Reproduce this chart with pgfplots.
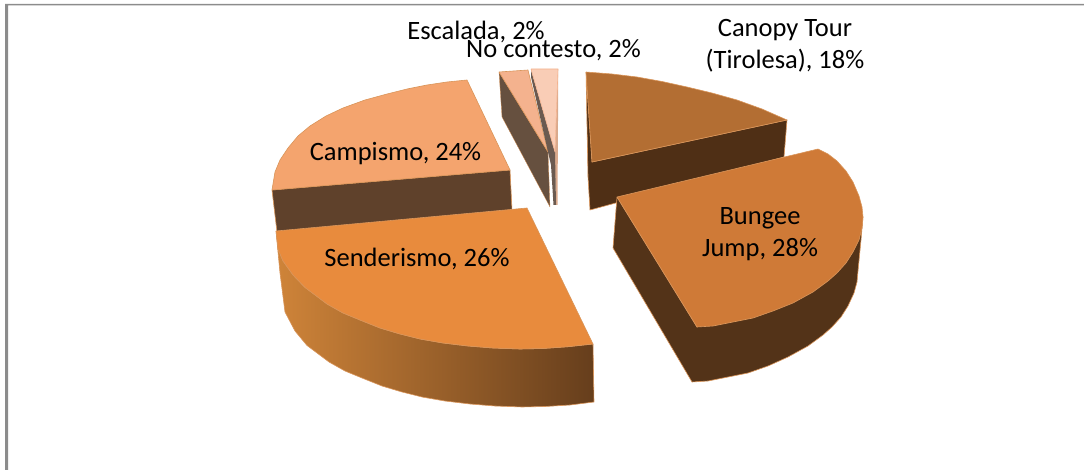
\documentclass[border=0pt]{standalone}
\usepackage{pgfplots}
\pgfplotsset{compat=1.18}
\usepackage{fontspec}
\setmainfont{Carlito}
\definecolor{edge}{HTML}{D9955A}
\definecolor{frame}{HTML}{8C8C8C}
\definecolor{cwall}{HTML}{5F412B}
\definecolor{ctop}{HTML}{F4A46E}
\definecolor{ewall}{HTML}{66503F}
\definecolor{etop}{HTML}{F4B28E}
\definecolor{nwall}{HTML}{6B5A50}
\definecolor{ntop}{HTML}{F9CDB6}
\definecolor{nside}{HTML}{D9A98C}
\definecolor{twall}{HTML}{4F2F15}
\definecolor{ttop}{HTML}{B36E33}
\definecolor{bwall}{HTML}{533318}
\definecolor{btop}{HTML}{CF7A37}
\definecolor{sleft}{HTML}{CF8439}
\definecolor{sright}{HTML}{663E1C}
\definecolor{stop}{HTML}{E88B3D}
\tikzset{lab/.style={font=\fontsize{26.5}{32}\selectfont,align=center,text=black,inner sep=0pt}}
\begin{document}
\begin{tikzpicture}
\path[use as bounding box] (0,0) rectangle (1084pt,470pt);
\begin{axis}[at={(0,0)},anchor=south west,width=1084pt,height=470pt,scale only axis,axis lines=none,xmin=0,xmax=1084,ymin=0,ymax=470,y dir=reverse,clip=true,
 every axis plot/.append style={line width=0.6pt,line join=round}]
% frame
\addplot[draw=none,fill=frame] coordinates {(5,4)(1084,4)(1084,5.5)(8,5.5)(8,470)(5,470)(5,4)};
% Campismo
\addplot[draw=edge,fill=cwall] coordinates {(272,190)(510,170)(512,210)(277,232)(272,190)};
\addplot[draw=edge,fill=ctop] coordinates {(510,170)(467,80)(447,82)(427,85)(407,89)(387,94)(365,100)(343,108)(326,116)(310,126)(298,136)(288,148)(280,160)(275,172)(272,190)(510,170)};
% Escalada
\addplot[draw=edge,line width=0.3pt,fill=ewall] coordinates {(499,72)(548,152)(550,207)(502,117)(499,72)};
\addplot[draw=edge,fill=etop] coordinates {(499,72)(528,70)(548,152)(499,72)};
% No contesto
\addplot[draw=none,fill=nside] coordinates {(558,69)(558,120)(557.5,205)(555.5,205)(555,152)(558,69)};
\addplot[draw=none,fill=nwall] coordinates {(531,70)(555,152)(556,205)(553.5,205)(551,165)(548,152)(531,77)(531,70)};
\addplot[draw=etop,fill=ntop] coordinates {(531,69)(558,69)(555,152)(531,69)};
% Canopy
\addplot[draw=edge,fill=twall] coordinates {(586,72)(592,162)(787,120)(784,157)(590,210)(588,177)(586,72)};
\addplot[draw=edge,fill=ttop] coordinates {(586,72)(612,74)(637,77)(662,81.5)(687,87)(712,93)(737,100)(762,109)(787,120)(592,162)(586,72)};
% Bungee
\addplot[draw=edge,fill=bwall] coordinates {(617,197)(613,248)(692,382)(708,381)(728,377)(748,373)(768,366)(788,357)(808,346)(823,335)(832,327)(841,317)(848,306)(854,293)(857,282)(858,271)(861,240)(863,217)(697,327)(617,197)};
\addplot[draw=edge,fill=btop] coordinates {(617,197)(818,149)(828,154)(837,161)(846,171)(853,182)(859,196)(862,207)(863,217)(862,228)(859,240)(853,252)(846,263)(837,273)(828,281)(813,292)(793,303)(773,311)(753,318)(733,322)(713,326)(697,327)(617,197)};
% Senderismo
\addplot[draw=edge,left color=sleft,right color=sright] coordinates {(276,231)(280,273)(285,312)(295,331)(307,345.5)(329,362)(345,371)(362,378)(382,386)(402,392)(422,397)(445,401)(470,404)(495,406)(522,407)(545,406.5)(570,405)(594,402)(593,344)(568,346.7)(543,348.5)(520,349)(493,348)(468,346)(443,343)(420,339)(400,334)(380,328)(360,320)(343,313)(327,304)(305,287.5)(293,275)(283,261)(278,249)(276,231)};
\addplot[draw=edge,fill=stop] coordinates {(276,231)(527,208)(593,344)(568,346.7)(543,348.5)(520,349)(493,348)(468,346)(443,343)(420,339)(400,334)(380,328)(360,320)(343,313)(327,304)(305,287.5)(293,275)(283,261)(278,249)(276,231)};
% labels
\node[lab] at (axis cs:395.5,154) {Campismo, 24\%};
\node[lab] at (axis cs:417,259) {Senderismo, 26\%};
\node[lab] at (axis cs:760,234) {Bungee\\Jump, 28\%};
\node[lab] at (axis cs:785,45.5) {Canopy Tour\\(Tirolesa), 18\%};
\node[lab] at (axis cs:476,32) {Escalada, 2\%};
\node[lab] at (axis cs:553.5,50) {No contesto, 2\%};
\end{axis}
\end{tikzpicture}
\end{document}
